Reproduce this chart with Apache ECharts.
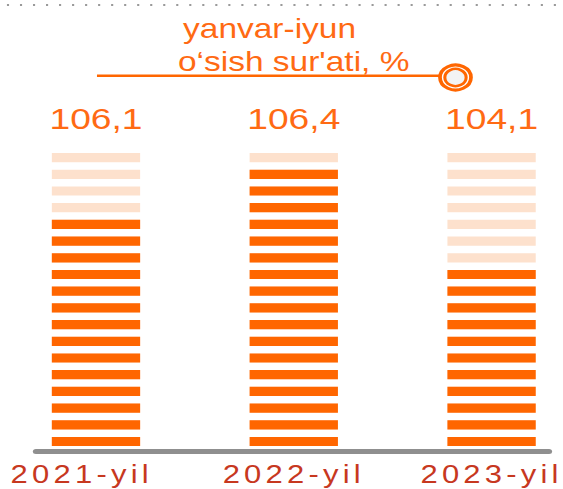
<!DOCTYPE html>
<html><head><meta charset="utf-8">
<script src="https://cdn.jsdelivr.net/npm/echarts@6/dist/echarts.min.js"></script>
<style>
html,body{margin:0;padding:0;background:#fff;overflow:hidden;}
#chart{width:454px;height:489px;transform:scaleX(1.24009);transform-origin:0 0;}
#chart text[style*="25px"]{letter-spacing:3.4px;}
</style></head><body><div id="chart"></div>
<script>
// ---- data ----
const categories = ['2021-yil', '2022-yil', '2023-yil'];
const growthRates = [106.1, 106.4, 104.1];      // yanvar-iyun o'sish sur'ati, %
const filledStripes = [14, 17, 11];             // dark stripes per column
const totalStripes = [18, 18, 18];              // stripes per column
const titleLines = ['yanvar-iyun', 'o‘sish sur\'ati, %'];

const ORANGE = '#ff6600';
const LIGHT = '#fde1cd';
const TEXT_ORANGE = '#ff6a13';
const RED = '#c7381f';
const FONT = 'Liberation Sans, Arial, sans-serif';

const chart = echarts.init(document.getElementById('chart'), null, {renderer: 'svg'});
const stripeSeries = (name, data, color, z, withLabel) => ({
  name, type: 'pictorialBar', data, z,
  xAxisIndex: 0, yAxisIndex: 0,
  symbol: 'rect', symbolRepeat: true,
  symbolSize: [71, 9], symbolMargin: '3.9!',
  itemStyle: {color},
  silent: true,
  label: withLabel ? {
    show: true, position: 'top', distance: 31, verticalAlign: 'middle',
    color: TEXT_ORANGE, fontSize: 30, fontFamily: FONT,
    formatter: p => growthRates[p.dataIndex].toFixed(1).replace('.', ',')
  } : {show: false}
});

const catLabelStyle = {verticalAlign: 'middle', color: RED, fontSize: 25, fontFamily: FONT};

chart.setOption({
  animation: false,
  backgroundColor: '#fff',
  title: [
    {text: titleLines[0], left: 147.6, top: 15, padding: 0,
     textStyle: {color: TEXT_ORANGE, fontSize: 27, fontWeight: 'normal', fontFamily: FONT}},
    {text: titleLines[1], left: 143.5, top: 47.5, padding: 0,
     textStyle: {color: TEXT_ORANGE, fontSize: 27, fontWeight: 'normal', fontFamily: FONT}}
  ],
  grid: [
    {left: 77.4, right: 57.6, top: 149.25, bottom: 39.15, containLabel: false},
    {left: 29, right: 11.3, top: 440, bottom: 37.5, containLabel: false}
  ],
  xAxis: [
    {type: 'category', gridIndex: 0, boundaryGap: false,
     data: categories.map((c, i) => i === 0
       ? {value: c, textStyle: Object.assign({}, catLabelStyle, {padding: [0, 23, 0, 0]})}
       : c),
     axisLine: {show: false}, axisTick: {show: false}, splitLine: {show: false},
     axisLabel: Object.assign({interval: 0, margin: 24.8}, catLabelStyle)},
    {type: 'category', gridIndex: 1, boundaryGap: true, data: [''],
     axisLine: {show: true, lineStyle: {color: '#8f8f8f', width: 5}},
     axisTick: {show: false}, axisLabel: {show: false}, splitLine: {show: false}}
  ],
  yAxis: [
    {type: 'value', gridIndex: 0, min: 0, max: 18, show: false},
    {type: 'value', gridIndex: 1, show: false}
  ],
  series: [
    stripeSeries('all', totalStripes, LIGHT, 2, true),
    stripeSeries('filled', filledStripes, ORANGE, 3, false)
  ],
  graphic: [
    {type: 'line', silent: true, shape: {x1: 5.6, y1: 5, x2: 454, y2: 5},
     style: {stroke: '#9a9a9a', lineWidth: 2.2, lineDash: [1.7, 8.8]}},
    {type: 'line', silent: true, shape: {x1: 78.2, y1: 75.7, x2: 356, y2: 75.7},
     style: {stroke: ORANGE, lineWidth: 2.6}},
    {type: 'circle', silent: true, shape: {cx: 367.3, cy: 77.5, r: 12.5},
     style: {stroke: ORANGE, lineWidth: 3, fill: '#fff'}},
    {type: 'circle', silent: true, shape: {cx: 367.3, cy: 77.5, r: 8.6},
     style: {stroke: ORANGE, lineWidth: 2.5, fill: '#f3f3f3'}}
  ]
});
</script></body></html>
